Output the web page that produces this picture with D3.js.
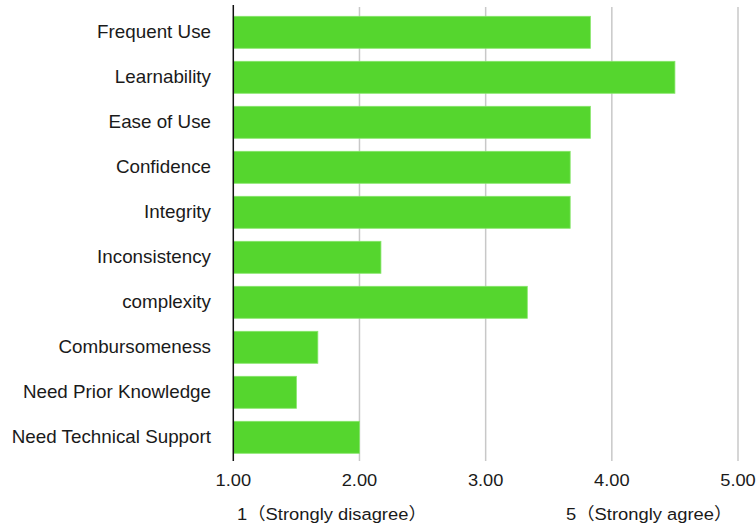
<!DOCTYPE html>
<html>
<head>
<meta charset="utf-8">
<script src="https://cdn.jsdelivr.net/npm/d3@7"></script>
<style>
  html, body { margin: 0; padding: 0; background: #fff; }
  svg { display: block; }
  text { font-family: "Liberation Sans", Arial, Helvetica, "Noto Sans CJK SC", sans-serif; fill: #1a1a1a; }
</style>
</head>
<body>
<svg id="chart" width="756" height="527"></svg>
<script>
const categories = ["Frequent Use", "Learnability", "Ease of Use", "Confidence", "Integrity",
  "Inconsistency", "complexity", "Combursomeness", "Need Prior Knowledge", "Need Technical Support"];
const values = [3.83, 4.5, 3.83, 3.67, 3.67, 2.17, 3.33, 1.67, 1.5, 2.0];
const tickValues = [1, 2, 3, 4, 5];
const scaleLabels = ["1（Strongly disagree）", "5（Strongly agree）"];

const svg = d3.select("#chart");
const x = d3.scaleLinear().domain([1, 5]).range([233.3, 738]);
const y = d3.scaleBand().domain(categories).range([9.8, 459.8])
  .paddingInner(0.289).paddingOuter(0.1445);
const sx = 1.075;

// gridlines
svg.append("g").selectAll("line").data(tickValues.slice(1)).join("line")
  .attr("x1", d => x(d)).attr("x2", d => x(d))
  .attr("y1", 7).attr("y2", 461)
  .attr("stroke", "#c8c8c8").attr("stroke-width", 1.5);

// bars
svg.append("g").selectAll("rect").data(values).join("rect")
  .attr("x", x(1))
  .attr("y", (d, i) => y(categories[i]))
  .attr("width", d => x(d) - x(1))
  .attr("height", y.bandwidth())
  .attr("fill", "#55d62e")
  .attr("stroke", "#86e66a").attr("stroke-width", 0.8);

// axis line
svg.append("line").attr("x1", x(1)).attr("x2", x(1)).attr("y1", 5).attr("y2", 461)
  .attr("stroke", "#111").attr("stroke-width", 1.5);

// category labels
svg.append("g").selectAll("text").data(categories).join("text")
  .attr("transform", d => `translate(211,${y(d) + y.bandwidth() / 2 + 5.5}) scale(${sx},1)`)
  .attr("text-anchor", "end")
  .style("font-size", "17.5px")
  .text(d => d);

// tick labels
svg.append("g").selectAll("text").data(tickValues).join("text")
  .attr("transform", d => `translate(${x(d)},486) scale(${sx},1)`)
  .attr("text-anchor", "middle")
  .style("font-size", "17px")
  .text(d => d3.format(".2f")(d));

// scale labels
svg.append("g").selectAll("text").data(scaleLabels).join("text")
  .attr("transform", (d, i) => `translate(${i === 0 ? 237 : 566},520) scale(1.08,1)`)
  .attr("text-anchor", "start")
  .style("font-size", "17px")
  .text(d => d);
</script>
</body>
</html>
